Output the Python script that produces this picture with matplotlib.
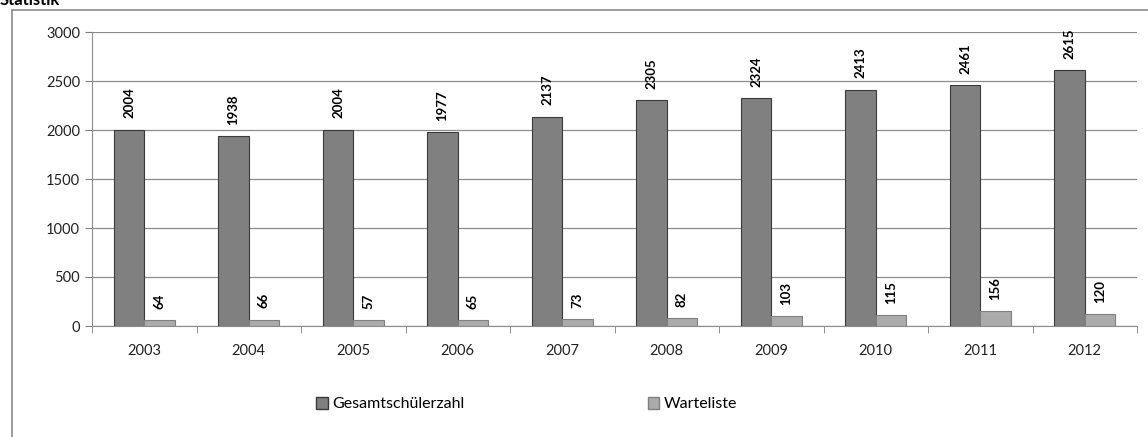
import numpy as np
import matplotlib.pyplot as plt
from matplotlib.patches import Rectangle, Patch

plt.rcParams['font.family'] = ['Lato', 'DejaVu Sans']

# Daten
jahre = ["2003", "2004", "2005", "2006", "2007", "2008", "2009", "2010", "2011", "2012"]
gesamt = [2004, 1938, 2004, 1977, 2137, 2305, 2324, 2413, 2461, 2615]
warteliste = [64, 66, 57, 65, 73, 82, 103, 115, 156, 120]

fig = plt.figure(figsize=(11.48, 4.37), dpi=100)
ax = fig.add_axes([92 / 1148, 1 - 326 / 437, (1137 - 92) / 1148, (326 - 32) / 437])

x = np.arange(len(jahre))
w = 0.29
b1 = ax.bar(x - w / 2, gesamt, w, color="#808080", edgecolor="#3a3a3a", linewidth=0.8, zorder=3)
b2 = ax.bar(x + w / 2, warteliste, w, color="#ababab", edgecolor="#808080", linewidth=0.8, zorder=3)

for bars, vals in ((b1, gesamt), (b2, warteliste)):
    for r, v in zip(bars, vals):
        ax.annotate(str(v), (r.get_x() + r.get_width() / 2, v), xytext=(0, 8),
                    textcoords="offset points", rotation=90, ha="center", va="bottom",
                    fontsize=9.5, fontweight="bold")

ax.set_xlim(-0.5, len(jahre) - 0.5)
ax.set_ylim(0, 3000)
ax.set_yticks(range(0, 3001, 500))
ax.set_xticks(x)
ax.set_xticklabels(jahre)
ax.set_xticks(np.arange(-0.5, len(jahre)), minor=True)
ax.tick_params(axis="x", which="major", length=0, pad=13, labelsize=10.5, colors="#222222")
ax.tick_params(axis="x", which="minor", length=5, color="#808080")
ax.tick_params(axis="y", length=5, color="#808080", labelsize=10.5, colors="#222222")
ax.grid(axis="y", color="#8c8c8c", linewidth=0.9, zorder=0)
for s in ("top", "right"):
    ax.spines[s].set_visible(False)
for s in ("left", "bottom"):
    ax.spines[s].set_color("#8c8c8c")

handles = [Patch(facecolor="#808080", edgecolor="#3a3a3a", label="Gesamtschülerzahl"),
           Patch(facecolor="#ababab", edgecolor="#808080", label="Warteliste")]
fig.legend(handles=handles, loc="center", bbox_to_anchor=(527 / 1148, 1 - 404 / 437), ncol=2,
           frameon=False, fontsize=11.5, handlelength=0.7, handleheight=0.8, handletextpad=0.3,
           columnspacing=11.5)

# Rahmen und abgeschnittener Titel
fig.patches.append(Rectangle((12 / 1148, -0.1), 1.2, 1.1 - 10 / 437, transform=fig.transFigure,
                             fill=False, edgecolor="#8c8c8c", linewidth=1.2))
fig.text(0.0, 1.0, "Statistik", fontsize=12, fontweight="bold", ha="left", va="center")

fig.savefig("out.png", dpi=100)
